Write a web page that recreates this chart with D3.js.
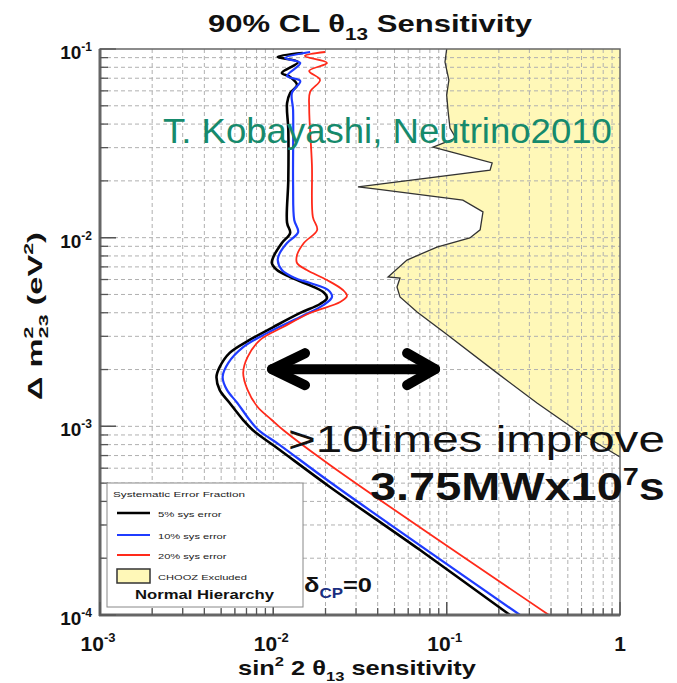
<!DOCTYPE html>
<html>
<head>
<meta charset="utf-8">
<script src="https://cdn.jsdelivr.net/npm/d3@7"></script>
<style>
body { margin: 0; background: #fff; }
text { font-family: "Liberation Sans", Arial, sans-serif; }
</style>
</head>
<body>
<script>
// ---- data (sin^2 2theta13, delta m^2_23 in eV^2) ----
var sys5S  = [0.0148,0.0106,0.0139,0.0112,0.0125,0.0137,0.0125,0.0120,0.0122,0.0122,0.0120,0.0125,0.0112,0.0100,0.0098,0.0105,0.0125,0.0156,0.0194,0.0204,0.0186,0.0143,0.0100,0.0073,0.0056,0.0049,0.0047,0.0049,0.0056,0.0067,0.0076,0.0109,0.0212,0.0702,0.232];
var sys5Dm = [0.0952,0.0907,0.0853,0.0746,0.0711,0.0644,0.0584,0.0517,0.0372,0.0202,0.0120,0.0106,0.00937,0.00790,0.00734,0.00674,0.00619,0.00568,0.00515,0.00479,0.00445,0.00399,0.00336,0.00287,0.00245,0.00206,0.00183,0.00156,0.00133,0.00108,0.000956,0.000749,0.000477,0.000221,0.0001];

var sys10S  = [0.0163,0.0117,0.0143,0.0120,0.0143,0.0128,0.0130,0.0130,0.0132,0.0139,0.0120,0.0109,0.0106,0.0112,0.0133,0.0163,0.0207,0.0218,0.0194,0.0143,0.0092,0.0067,0.0055,0.0051,0.0054,0.0062,0.0073,0.0082,0.0109,0.0212,0.265];
var sys10Dm = [0.0964,0.0896,0.0843,0.0719,0.0677,0.0584,0.0475,0.0190,0.0124,0.0107,0.00937,0.00829,0.00761,0.00674,0.00611,0.00575,0.00528,0.00485,0.00439,0.00380,0.00312,0.00263,0.00217,0.00183,0.00156,0.00133,0.00108,0.000956,0.000796,0.000507,0.0001];

var sys20S  = [0.0199,0.0152,0.0204,0.0161,0.0186,0.0163,0.0161,0.0167,0.0169,0.0179,0.0150,0.0137,0.0137,0.0156,0.0204,0.0252,0.0266,0.0243,0.0163,0.0114,0.0084,0.0071,0.0067,0.0071,0.0081,0.0098,0.0114,0.0212,0.389];
var sys20Dm = [0.0964,0.0918,0.0843,0.0765,0.0685,0.0592,0.0487,0.0243,0.0129,0.0110,0.00937,0.00809,0.00734,0.00674,0.00596,0.00528,0.00491,0.00456,0.00399,0.00336,0.00287,0.00233,0.00192,0.00156,0.00127,0.00108,0.000956,0.000624,0.0001];

var choozS  = [0.100,0.0978,0.103,0.100,0.102,0.1045,0.113,0.0834,0.107,0.183,0.178,0.0308,0.0396,0.124,0.162,0.156,0.136,0.0879,0.059,0.0459,0.0538,0.0517,0.0538,0.0675,0.0978,0.195,0.332,0.588,1.0];
var choozDm = [0.1,0.0853,0.0685,0.057,0.0464,0.0381,0.0337,0.0302,0.0284,0.0249,0.0228,0.0186,0.0181,0.0158,0.0137,0.011,0.00996,0.00892,0.00761,0.00619,0.00611,0.00548,0.00485,0.00404,0.00312,0.00192,0.00133,0.000922,0.000688];

var xTicks = [1e-3, 1e-2, 1e-1, 1];
var xTickLabels = [["10","-3"], ["10","-2"], ["10","-1"], ["1",""]];
var yTicks = [1e-1, 1e-2, 1e-3, 1e-4];
var yTickLabels = [["10","-1"], ["10","-2"], ["10","-3"], ["10","-4"]];

var legendLabels = ["5% sys error", "10% sys error", "20% sys error"];
var arrowS = [0.0092, 0.0916], arrowDm = 0.00201;

// ---- layout ----
var dim = { width: 677, height: 683, left: 100, right: 620, top: 49, bottom: 615 };
var colors = ["#000000", "#1f3cff", "#ff2a1a"];
var widths = [2.6, 2.2, 1.8];
var yellow = "#fff8b8";

var x = d3.scaleLog().domain([1e-3, 1]).range([dim.left, dim.right]);
var y = d3.scaleLog().domain([1e-4, 1e-1]).range([dim.bottom, dim.top]);

var svg = d3.select("body").append("svg")
        .attr("width", dim.width)
        .attr("height", dim.height);

function pts(a, b) { return a.map(function(d, i) { return [d, b[i]]; }); }
var line = d3.line().x(function(d) { return x(d[0]); }).y(function(d) { return y(d[1]); });
var smooth = d3.line().curve(d3.curveCatmullRom).x(function(d) { return x(d[0]); }).y(function(d) { return y(d[1]); });

// fits a text element between left x0 and x0+w on baseline
function fit(t, x0, base, w) {
    var b = t.node().getBBox(), s = w / b.width;
    t.attr("transform", "translate(" + (x0 - b.x * s) + "," + base + ") scale(" + s + ",1)");
    return t;
}

// CHOOZ excluded region
var chooz = pts(choozS, choozDm);
svg.append("path")
        .attr("d", line(chooz.concat([[1, 1e-1]])) + "Z")
        .attr("fill", yellow);

// grid
var gridX = [], gridY = [];
for (var k = -3; k <= -1; k++) for (var m = 1; m <= 9; m++) if (!(k == -3 && m == 1)) gridX.push(m * Math.pow(10, k));
for (k = -4; k <= -2; k++) for (m = 1; m <= 9; m++) if (!(k == -4 && m == 1)) gridY.push(m * Math.pow(10, k));

var grid = svg.append("g").attr("stroke", "#b0b0b0").attr("stroke-dasharray", "4,3").attr("stroke-width", 1);
grid.selectAll("line.gx").data(gridX).join("line")
        .attr("x1", function(d) { return x(d); }).attr("x2", function(d) { return x(d); })
        .attr("y1", dim.top).attr("y2", dim.bottom);
grid.selectAll("line.gy").data(gridY).join("line")
        .attr("y1", function(d) { return y(d); }).attr("y2", function(d) { return y(d); })
        .attr("x1", dim.left).attr("x2", dim.right);

// CHOOZ boundary
svg.append("path").attr("d", line(chooz)).attr("fill", "none")
        .attr("stroke", "#333").attr("stroke-width", 1.3);

// sensitivity curves
var curves = [pts(sys5S, sys5Dm), pts(sys10S, sys10Dm), pts(sys20S, sys20Dm)];
svg.append("g").selectAll("path").data(curves).join("path")
        .attr("d", smooth)
        .attr("fill", "none")
        .attr("stroke", function(d, i) { return colors[i]; })
        .attr("stroke-width", function(d, i) { return widths[i]; })
        .attr("stroke-linejoin", "round");

// frame + ticks
svg.append("rect").attr("x", dim.left).attr("y", dim.top)
        .attr("width", dim.right - dim.left).attr("height", dim.bottom - dim.top)
        .attr("fill", "none").attr("stroke", "#666").attr("stroke-width", 1.5);
svg.append("line").attr("x1", dim.left).attr("x2", dim.left).attr("y1", dim.top).attr("y2", dim.bottom + 1)
        .attr("stroke", "#666").attr("stroke-width", 3);
svg.append("line").attr("x1", dim.left - 1).attr("x2", dim.right).attr("y1", dim.bottom).attr("y2", dim.bottom)
        .attr("stroke", "#666").attr("stroke-width", 3);

var ticks = svg.append("g").attr("stroke", "#555").attr("stroke-width", 1.3);
ticks.selectAll("line.ty").data(gridY.concat(yTicks)).join("line")
        .attr("x1", dim.left).attr("x2", function(d) { return dim.left + (yTicks.indexOf(d) >= 0 ? 16 : 8); })
        .attr("y1", function(d) { return y(d); }).attr("y2", function(d) { return y(d); });
ticks.selectAll("line.tx").data(gridX.concat(xTicks)).join("line")
        .attr("y1", dim.bottom).attr("y2", function(d) { return dim.bottom - (xTicks.indexOf(d) >= 0 ? 13 : 7); })
        .attr("x1", function(d) { return x(d); }).attr("x2", function(d) { return x(d); });

// tick labels
yTicks.forEach(function(v, i) {
    var t = svg.append("text").attr("x", 92).attr("y", y(v) + 10)
            .attr("text-anchor", "end").attr("font-weight", "bold").attr("font-size", 19).attr("fill", "#111");
    t.append("tspan").text(yTickLabels[i][0]);
    t.append("tspan").attr("dy", -8).attr("font-size", 12).text(yTickLabels[i][1]);
});
xTicks.forEach(function(v, i) {
    var t = svg.append("text").attr("x", x(v) - (i < 3 ? 2 : 0)).attr("y", 651)
            .attr("text-anchor", "middle").attr("font-weight", "bold").attr("font-size", 21).attr("fill", "#111");
    t.append("tspan").text(xTickLabels[i][0]);
    if (xTickLabels[i][1]) t.append("tspan").attr("dy", -9).attr("font-size", 13).text(xTickLabels[i][1]);
});

// title
var title = svg.append("text").attr("font-weight", "bold").attr("font-size", 24).attr("fill", "#111");
title.append("tspan").text("90% CL \u03b8");
title.append("tspan").attr("dy", 8).attr("font-size", 16).text("13");
title.append("tspan").attr("dy", -8).text(" Sensitivity");
fit(title, 208, 32, 325);

// x axis title
var xt = svg.append("text").attr("font-weight", "bold").attr("font-size", 20).attr("fill", "#111");
xt.append("tspan").text("sin");
xt.append("tspan").attr("dy", -9).attr("font-size", 13).text("2");
xt.append("tspan").attr("dy", 9).text(" 2 \u03b8");
xt.append("tspan").attr("dy", 6).attr("font-size", 13).text("13");
xt.append("tspan").attr("dy", -6).text(" sensitivity");
fit(xt, 238, 675, 239);

// y axis title
var yg = svg.append("g").attr("transform", "rotate(-90)");
var yt = yg.append("text").attr("font-weight", "bold").attr("font-size", 20).attr("fill", "#111");
yt.append("tspan").text("\u0394 m");
yt.append("tspan").attr("dy", -9).attr("font-size", 13).text("2");
yt.append("tspan").attr("dx", -7).attr("dy", 15).attr("font-size", 13).text("23");
yt.append("tspan").attr("dy", -6).text(" (eV");
yt.append("tspan").attr("dy", -9).attr("font-size", 13).text("2");
yt.append("tspan").attr("dy", 9).text(")");
fit(yt, -400, 42, 168);

// legend
var lg = svg.append("g");
lg.append("rect").attr("x", 107).attr("y", 483).attr("width", 196).attr("height", 124)
        .attr("fill", "#fff").attr("stroke", "#888").attr("stroke-width", 1);
fit(lg.append("text").attr("font-size", 8).attr("fill", "#222").text("Systematic Error Fraction"), 113, 497, 132);
var legY = [513, 535, 555], legW = [64, 69, 69];
legendLabels.forEach(function(l, i) {
    lg.append("line").attr("x1", 117).attr("x2", 150).attr("y1", legY[i]).attr("y2", legY[i])
            .attr("stroke", colors[i]).attr("stroke-width", widths[i]);
    fit(lg.append("text").attr("font-size", 8).attr("fill", "#222").text(l), 158, legY[i] + 3.5, legW[i]);
});
lg.append("rect").attr("x", 117).attr("y", 569).attr("width", 33).attr("height", 14)
        .attr("fill", yellow).attr("stroke", "#333").attr("stroke-width", 1.5);
fit(lg.append("text").attr("font-size", 8).attr("fill", "#222").text("CHOOZ Excluded"), 158, 580, 89);
fit(lg.append("text").attr("font-size", 13).attr("font-weight", "bold").attr("fill", "#111").text("Normal Hierarchy"), 135, 599, 140);

// delta_CP = 0
var dcp = svg.append("text").attr("font-weight", "bold").attr("font-size", 21).attr("fill", "#111");
dcp.append("tspan").text("\u03b4");
dcp.append("tspan").attr("dy", 6).attr("font-size", 14).attr("fill", "#1a2f80").text("CP");
dcp.append("tspan").attr("dy", -6).text("=0");
fit(dcp, 304, 592, 68);

// arrow
var ax0 = x(arrowS[0]) + 5, ax1 = x(arrowS[1]) - 5, ay = y(arrowDm);
var arrow = svg.append("g").attr("stroke", "#000").attr("stroke-width", 10)
        .attr("stroke-linecap", "round").attr("stroke-linejoin", "round").attr("fill", "none");
arrow.append("line").attr("x1", ax0).attr("x2", ax1).attr("y1", ay).attr("y2", ay);
arrow.append("path").attr("d", "M" + (ax0 + 33) + "," + (ay - 16) + "L" + ax0 + "," + ay + "L" + (ax0 + 33) + "," + (ay + 16));
arrow.append("path").attr("d", "M" + (ax1 - 28) + "," + (ay - 16) + "L" + ax1 + "," + ay + "L" + (ax1 - 28) + "," + (ay + 16));

// green credit
fit(svg.append("text").attr("font-size", 36).attr("fill", "#168a6c").text("T. Kobayashi, Neutrino2010"), 163, 143, 449);

// improvement note (the visible part of the slide text)
fit(svg.append("text").attr("font-size", 36).attr("fill", "#111").text(">10times improve"), 288, 452, 377);

var pw = svg.append("text").attr("font-weight", "bold").attr("font-size", 39).attr("fill", "#111");
pw.append("tspan").text("3.75MWx10");
pw.append("tspan").attr("dy", -15).attr("font-size", 24).text("7");
pw.append("tspan").attr("dy", 15).text("s");
fit(pw, 370, 500, 295);
</script>
</body>
</html>
